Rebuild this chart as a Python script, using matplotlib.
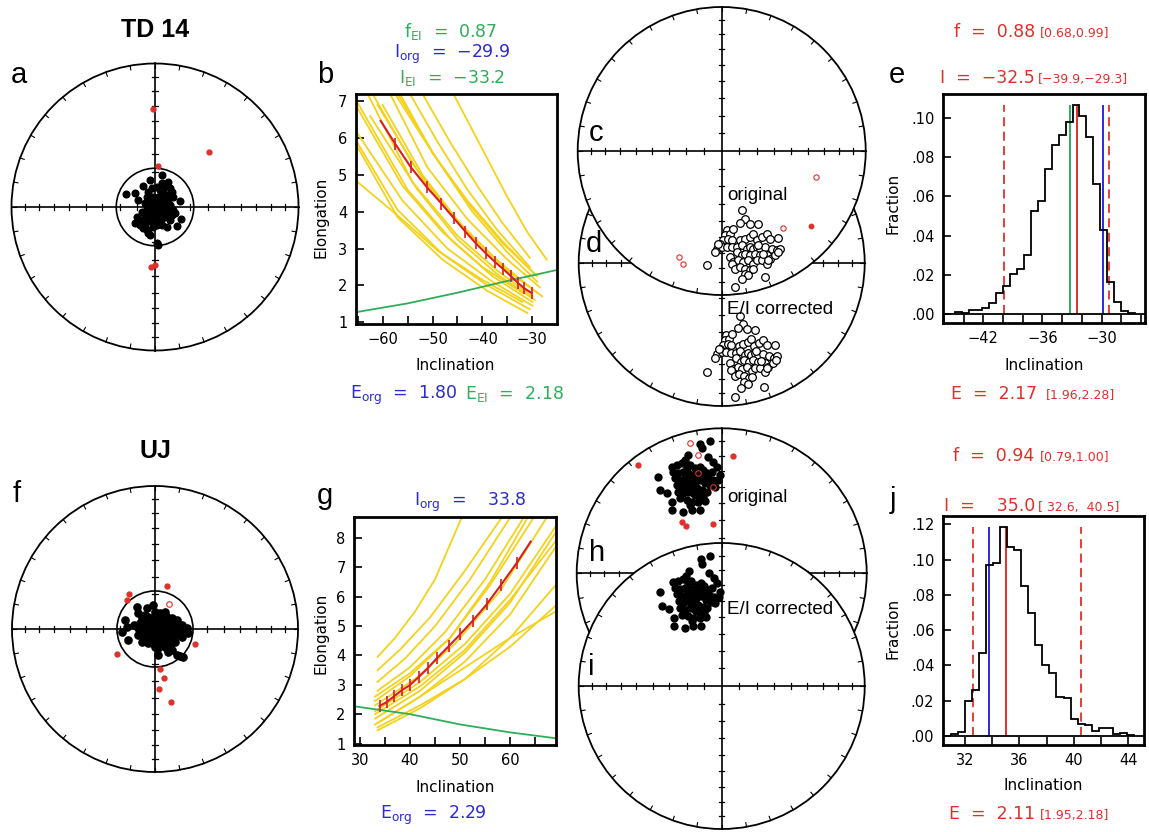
import numpy as np
import matplotlib.pyplot as plt
from matplotlib.patches import Circle
from matplotlib.ticker import FuncFormatter, MultipleLocator, FixedLocator

W, H = 1149, 832

RED = "#e0302a"
BLUE = "#2b2bd2"
GREEN = "#2fae5a"
YELLOW = "#f4d21c"

# ---------------- data ----------------
# equal-area net coordinates, in % of net radius (east, north)
td14_x = [-20.5, -14.0, -11.7, -8.2, -3.5, 4.7, 5.1, 9.3, 10.5, 11.7, 12.8, 17.5, -4.7, -2.3, 1.2, 3.5,
          5.8, 8.2, -5.8, -3.5, -1.2, 2.3, 4.7, 7.0, 9.3, -7.0, -4.7, -2.3, 0.0, 2.3, 4.7, 7.0, 10.5,
          -5.8, -3.5, -1.2, 1.2, 3.5, 5.8, 8.2, 11.7, -9.3, -7.0, -4.7, -2.3, 0.0, 2.3, 4.7, 7.0, 10.5,
          -12.8, -11.7, -9.3, -7.0, -4.7, -2.3, 0.0, 2.3, -14.0, -10.5, -7.0, -5.8, -3.5, -1.2, 1.2,
          4.7, 8.2, 15.2, 18.2, -8.2, -4.7, 1.2, -2.3, 0.0, -3.5, 3.5, 5.8, 10.5, 12.8, 14.0, 2.3]
td14_y = [8.9, 10.0, 4.9, 14.9, 18.9, 22.4, 16.6, 17.7, 13.1, 10.7, 7.2, 4.2, 10.7, 13.1, 14.2, 11.9,
          10.7, 8.4, 7.2, 6.1, 7.2, 7.2, 6.1, 4.9, 3.7, 2.6, 1.4, 2.6, 1.4, 2.6, 1.4, 0.2, -0.9,
          -0.9, -2.1, -0.9, -2.1, -0.9, -3.3, -4.4, -5.6, -3.3, -4.4, -5.6, -4.4, -5.6, -6.8, -7.9, -6.8, -9.1,
          -6.8, -10.3, -9.1, -7.9, -9.1, -10.3, -9.1, -10.3, -11.4, -12.6, -12.6, -16.1, -19.6, -13.8, -12.6,
          -12.6, -13.8, -13.1, -8.4, -14.9, -18.4, -25.4, -0.9, 4.9, 3.7, 3.7, 14.2, 1.4, -2.1, -4.4, -26.8]
td14_rej_x = [-1.2, 37.8, 2.3, -3.0, 0.0]
td14_rej_y = [68.1, 38.5, 28.7, -42.0, -40.3]

uj_x = [-12.9, -5.8, -1.2, 0.0, 3.5, 7.0, -21.0, -19.9, -23.4, -19.2, -11.7, -9.3, -7.0, -4.7, -2.3, 1.2,
        4.7, 8.2, 11.7, 15.2, 18.7, 22.2, 23.4, -10.5, -8.2, -5.8, -3.5, -1.2, 2.3, 5.8, 9.3, 12.9,
        16.4, -11.7, -9.3, -7.0, -4.7, -2.3, 0.0, 2.3, 4.7, 8.2, 11.7, 15.2, 18.7, -8.2, -5.8, -3.5,
        -1.2, 1.2, 3.5, 5.8, 9.3, -7.0, -4.7, -2.3, 0.0, 2.3, 5.8, 0.0, 2.3, 8.2, 10.5, 11.7, 15.2,
        17.5, 19.9, 9.3, 14.0, 16.4, -11.7, -14.5, 2.3, -4.7, -2.3, 4.2, -8.2, 11.7, 19.9, 7.0, -9.3, 12.9]
uj_y = [15.7, 14.5, 16.8, 12.1, 11.4, 12.1, 6.3, 1.6, -1.9, -7.7, 11.0, 7.5, 9.8, 8.6, 7.5, 8.6,
        7.5, 8.6, 7.5, 6.3, 2.8, 0.5, -3.0, 4.0, 5.1, 4.0, 5.1, 4.0, 4.0, 4.0, 4.0, 2.8,
        1.6, 0.5, -0.7, 0.5, -0.7, 0.5, -0.7, -0.2, 0.5, -0.7, -1.9, -4.2, -5.4, -3.0, -4.2, -3.0,
        -4.2, -3.0, -4.2, -3.0, -4.9, -6.5, -7.7, -6.5, -7.7, -6.5, -7.7, -12.4, -13.6, -8.9, -11.2, -14.7, -18.2,
        -18.9, -19.4, -15.9, -8.9, -1.9, -4.2, 2.8, -18.2, -10.0, -10.0, -10.5, 1.6, 1.6, -0.7, -12.4, -8.9, -6.5]
uj_rej_x = [8.2, -18.0, -19.9, 28.0, -26.4, 3.5, 6.3, 2.8, 11.2]
uj_rej_y = [29.9, 24.8, 20.6, -10.5, -17.3, -28.0, -34.3, -42.1, -50.7]
uj_rej_open_x = [9.8]
uj_rej_open_y = [17.8]

# original directions (panel c)
td14_orig_x = [13.9, 16.2, 12.7, 19.7, 25.5, 3.5, 2.3, 5.8, 8.1, 1.2, 4.6, 6.9, -1.2, -3.5, -4.6, 0.0,
               3.5, 6.9, 10.4, 12.7, 16.2, 19.7, 22.0, 24.3, 27.8, 31.2, 33.6, 39.4, 13.9, 17.4, 19.7,
               22.0, 24.3, 26.6, 30.1, 34.7, 38.2, 40.5, 10.4, 13.9, 16.2, 19.7, 23.1, 26.6, 31.2, 33.6,
               37.0, 39.4, 5.8, 8.1, 11.6, 15.0, 18.5, 22.0, 24.3, 27.8, 31.2, 32.4, 6.9, 9.3, 12.7, 16.2,
               19.7, 22.0, 16.2, 18.5, 13.9, 30.1, 9.3, -10.4, -2.3, 25.5, 28.9]
td14_orig_y = [-41.2, -47.0, -50.0, -50.5, -50.9, -55.1, -58.6, -57.4, -53.9, -62.0, -60.9, -62.0, -64.4,
               -67.8, -70.1, -66.7, -66.7, -66.7, -66.7, -62.0, -60.9, -59.7, -57.4, -62.0, -59.7, -57.4,
               -60.9, -60.2, -65.5, -67.8, -66.7, -67.8, -66.7, -69.0, -66.7, -67.8, -69.0, -67.8, -70.1,
               -72.5, -71.3, -72.5, -71.3, -72.5, -72.5, -74.8, -72.5, -70.1, -73.6, -77.1, -75.9, -77.1,
               -75.9, -78.2, -75.9, -75.9, -78.2, -75.9, -78.2, -81.7, -80.6, -81.7, -82.9, -81.7, -85.2,
               -86.3, -88.7, -87.5, -94.4, -79.4, -64.4, -65.5, -71.3]
td14_orig_rej_open_x = [65.3, 42.4, -29.6, -27.1]
td14_orig_rej_open_y = [-18.1, -53.5, -73.6, -78.7]
td14_orig_rej_x = [61.8]
td14_orig_rej_y = [-52.3]

# original directions (panel h)
uj_orig_x = [-14.9, -8.0, -13.8, -23.0, -9.2, -5.7, -25.3, -34.5, -31.0, -27.6, -24.1, -21.8, -18.4, -14.9,
             -12.6, -10.3, -6.9, -3.4, -1.1, -43.7, -33.3, -29.9, -26.4, -23.0, -19.5, -16.1, -12.6, -9.2,
             -5.7, -2.3, -32.2, -28.7, -25.3, -21.8, -18.4, -14.9, -11.5, -8.0, -4.6, -42.5, -37.9, -31.0,
             -27.6, -24.1, -20.7, -17.2, -13.8, -10.3, -29.9, -26.4, -23.0, -19.5, -16.1, -12.6, -34.5,
             -28.7, -24.1, -20.7, -16.1, -11.5, -34.5, -26.4, -20.7, -14.9, -21.8, -18.4, -24.1, -26.4,
             -19.5, -17.2]
uj_orig_y = [89.2, 91.5, 86.2, 81.6, 80.5, 77.0, 78.2, 73.6, 74.7, 75.9, 73.6, 74.7, 72.4, 73.6, 71.3, 69.0,
             70.1, 73.6, 67.8, 66.7, 70.1, 69.0, 70.1, 69.0, 67.8, 69.0, 66.7, 65.5, 64.4, 64.4, 65.5, 64.4,
             65.5, 64.4, 63.2, 64.4, 62.1, 60.9, 59.8, 57.5, 55.2, 60.9, 59.8, 60.9, 59.8, 58.6, 57.5, 56.3,
             56.3, 55.2, 56.3, 55.2, 54.0, 52.9, 49.4, 51.7, 50.6, 49.4, 49.4, 50.1, 43.7, 42.5, 43.7, 43.7,
             47.1, 54.0, 69.0, 63.2, 62.1, 66.7]
uj_orig_rej_open_x = [-21.8, -16.1, -16.1, -6.2]
uj_orig_rej_open_y = [89.7, 81.6, 69.0, 59.3]
uj_orig_rej_x = [-27.6, -24.6, -6.2, -57.9, 7.6]
uj_orig_rej_y = [35.6, 32.6, 33.8, 74.7, 81.1]

# E/I curves, TD 14 (panel b)
b_boot_inc = [[-27.1, -31, -35, -40, -45.8], [-30.5, -36, -41, -46.5, -52], [-30.5, -37, -43, -49, -54.5],
              [-29, -35, -42, -49, -57], [-29.5, -36, -43, -50, -57.5], [-28.5, -35, -43, -51, -58.5],
              [-29, -36, -44, -52, -60], [-30, -37, -45, -54, -63], [-30, -38, -46, -55, -65.4],
              [-30, -38, -47, -56, -65.4], [-30.5, -39, -48, -57, -65.4], [-31, -39, -48, -57, -65.4],
              [-32, -40, -49, -57, -65.4], [-29, -36, -43, -50, -56.5], [-31, -38, -46, -54, -62],
              [-28, -35, -43, -52, -61], [-32, -40, -48, -56, -65.4], [-29.5, -37, -45, -53, -62.5]]
b_boot_elong = [[2.7, 3.45, 4.4, 5.7, 7.2], [2.75, 3.7, 4.7, 5.9, 7.2], [2.5, 3.5, 4.6, 5.9, 7.2],
                [2.1, 2.9, 4.0, 5.4, 7.2], [2.3, 3.2, 4.3, 5.6, 7.2], [1.95, 2.7, 3.8, 5.2, 7.2],
                [1.8, 2.55, 3.6, 5.0, 6.9], [1.7, 2.4, 3.35, 4.8, 7.2], [1.55, 2.25, 3.2, 4.6, 7.05],
                [1.45, 2.1, 3.0, 4.3, 6.2], [1.35, 2.0, 2.85, 4.05, 5.95], [1.25, 1.85, 2.7, 3.85, 5.85],
                [1.55, 2.15, 2.95, 3.9, 4.85], [2.25, 3.15, 4.25, 5.6, 7.2], [2.0, 2.8, 3.9, 5.3, 7.2],
                [1.7, 2.4, 3.45, 4.9, 6.9], [1.8, 2.5, 3.45, 4.7, 6.9], [1.6, 2.3, 3.25, 4.6, 6.6]]
b_data_inc = [-30.1, -31.6, -32.9, -34.35, -35.8, -37.5, -39.3, -41.3, -43.4, -45.7, -48.2, -51.2, -54.4, -57.5]
b_data_elong = [1.79, 1.92, 2.07, 2.26, 2.44, 2.64, 2.87, 3.14, 3.46, 3.82, 4.22, 4.68, 5.22, 5.85]
b_data_end = (-60.4, 6.47)
b_model_inc = [-65.4, -55, -45, -35, -25]
b_model_elong = [1.27, 1.51, 1.80, 2.12, 2.42]

# E/I curves, UJ (panel g)
g_boot_inc = [[33.5, 37, 41, 45, 50.3], [33.5, 38, 44, 51, 58.3], [33.5, 39, 45, 52, 60], [33.5, 40, 47, 55, 62.7],
              [33, 40, 48, 56, 64.7], [33, 41, 49, 58, 67.3], [33, 42, 51, 60, 69.1], [33, 42, 51, 60, 69.1],
              [33, 42, 51, 60, 69.1], [33.5, 42, 51, 60, 69.1], [33.5, 42, 51, 60, 69.1], [34, 42, 51, 60, 69.1],
              [33, 40, 48, 56, 63.5], [33, 42, 51, 60, 69.1]]
g_boot_elong = [[3.95, 4.6, 5.5, 6.6, 8.7], [3.5, 4.2, 5.3, 6.9, 8.7], [3.1, 3.9, 5.0, 6.6, 8.7],
                [2.8, 3.6, 4.8, 6.6, 8.7], [2.6, 3.4, 4.6, 6.4, 8.7], [2.3, 3.2, 4.4, 6.2, 8.7],
                [2.1, 3.1, 4.4, 6.1, 8.4], [1.85, 2.8, 4.1, 5.8, 8.2], [1.65, 2.6, 3.8, 5.4, 7.7],
                [1.45, 2.2, 3.2, 4.6, 6.4], [1.55, 2.3, 3.2, 4.3, 5.7], [1.75, 2.6, 3.6, 4.6, 5.5],
                [2.45, 3.3, 4.6, 6.5, 8.7], [2.0, 2.95, 4.2, 5.9, 7.9]]
g_data_inc = [33.9, 35.3, 36.8, 38.3, 39.9, 41.7, 43.5, 45.3, 47.7, 50.0, 52.5, 55.3, 58.1, 61.3]
g_data_elong = [2.28, 2.41, 2.61, 2.81, 2.98, 3.26, 3.56, 3.90, 4.31, 4.72, 5.18, 5.74, 6.39, 7.15]
g_data_end = (64.1, 7.88)
g_model_inc = [28.8, 40, 50, 60, 69.1]
g_model_elong = [2.27, 2.0, 1.65, 1.38, 1.18]

# bootstrap inclination histograms
e_lo, e_hi = -44.9, -26.63
e_frac = [.001, .0005, .002, .002, .003, .0055, .011, .0145, .0205, .023, .030, .0525, .0575, .074, .086,
          .0915, .098, .1065, .101, .0905, .0665, .043, .0165, .006, .0015, .0005]
j_lo, j_hi = 30.97, 44.41
j_frac = [.001, .0025, .020, .026, .047, .097, .098, .1187, .107, .1055, .085, .0695, .0516, .040, .0355,
          .0223, .0214, .0094, .0066, .0062, .003, .0043, .0043, .0011, .0019, .0006]

f_td14, f_td14_ci = 0.88, (0.68, 0.99)
i_td14, i_td14_ci = -32.5, (-39.9, -29.3)
e_td14, e_td14_ci = 2.17, (1.96, 2.28)
f_ei_td14, i_org_td14, i_ei_td14 = 0.87, -29.9, -33.2
e_org_td14, e_ei_td14 = 1.80, 2.18

f_uj, f_uj_ci = 0.94, (0.79, 1.00)
i_uj, i_uj_ci = 35.0, (32.6, 40.5)
e_uj, e_uj_ci = 2.11, (1.95, 2.18)
i_org_uj, e_org_uj = 33.8, 2.29

# ---------------- helpers ----------------
plt.rcParams["font.family"] = ["DejaVu Sans"]
fig = plt.figure(figsize=(W / 100, H / 100), dpi=100)


def ftext(x, y, s, **kw):
    fig.text(x / W, 1 - y / H, s, **kw)


def px_axes(x0, y0, x1, y1):
    return fig.add_axes([x0 / W, 1 - y1 / H, (x1 - x0) / W, (y1 - y0) / H])


def mstr(v):
    return f"{v:.1f}".replace("-", "\u2212")


def unflatten(x, y, f):
    x = np.asarray(x) / 100
    y = np.asarray(y) / 100
    r = np.hypot(x, y)
    inc = 90 - 2 * np.degrees(np.arcsin(r / np.sqrt(2)))
    inc_c = np.degrees(np.arctan(np.tan(np.radians(inc)) / f))
    rc = np.sqrt(2) * np.sin(np.radians((90 - inc_c) / 2))
    return x * rc / r * 100, y * rc / r * 100


def net(cx, cy, R, z=1, inner=None):
    pad = 1.06
    ax = px_axes(cx - pad * R, cy - pad * R, cx + pad * R, cy + pad * R)
    ax.set_xlim(-pad * 100, pad * 100)
    ax.set_ylim(-pad * 100, pad * 100)
    ax.set_axis_off()
    ax.set_zorder(z)
    ax.add_patch(Circle((0, 0), 100, facecolor="white", edgecolor="black", lw=1.3, zorder=1))
    ax.plot([-100, 100], [0, 0], color="k", lw=1.2, zorder=2)
    ax.plot([0, 0], [-100, 100], color="k", lw=1.2, zorder=2)
    rr = 100 * np.sqrt(2) * np.sin(np.radians((90 - np.arange(10, 90, 10)) / 2))
    for r in rr:
        for s in (-1, 1):
            ax.plot([s * r, s * r], [-1.8, 1.8], color="k", lw=0.9, zorder=2)
            ax.plot([-1.8, 1.8], [s * r, s * r], color="k", lw=0.9, zorder=2)
    for a in np.radians(np.arange(0, 360, 10)):
        ax.plot([97 * np.sin(a), 100 * np.sin(a)], [97 * np.cos(a), 100 * np.cos(a)], color="k", lw=0.8, zorder=2)
    if inner is not None:
        ax.add_patch(Circle((0, 0), inner, facecolor="none", edgecolor="black", lw=1.2, zorder=2))
    return ax


def style_axes(ax):
    for sp in ax.spines.values():
        sp.set_linewidth(2)
    ax.tick_params(which="both", direction="in", length=6, width=1.2, top=False, right=False,
                   labelsize=10.5, pad=6)


# ---------------- panel a / f ----------------
ax = net(155, 207, 143.5, inner=27)
ax.plot(td14_x, td14_y, "o", color="k", ms=4.8, zorder=3)
ax.plot(td14_rej_x, td14_rej_y, "o", color=RED, ms=3.5, zorder=3)

ax = net(155, 629, 143, inner=26.6)
ax.plot(uj_x, uj_y, "o", color="k", ms=5.2, zorder=3)
ax.plot(uj_rej_x, uj_rej_y, "o", color=RED, ms=3.5, zorder=3)
ax.plot(uj_rej_open_x, uj_rej_open_y, "o", mfc="none", mec=RED, ms=4, mew=0.8, zorder=3)

# ---------------- panel c / d ----------------
ax = net(721.7, 263, 143, z=1)
dx, dy = unflatten(td14_orig_x, td14_orig_y, f_ei_td14)
ax.plot(dx, dy, "o", mfc="white", mec="k", ms=5.5, mew=0.9, zorder=3)

ax = net(721.7, 151, 144, z=2)
ax.plot(td14_orig_x, td14_orig_y, "o", mfc="white", mec="k", ms=5.5, mew=0.9, zorder=3)
ax.plot(td14_orig_rej_open_x, td14_orig_rej_open_y, "o", mfc="none", mec=RED, ms=3.8, mew=0.8, zorder=3)
ax.plot(td14_orig_rej_x, td14_orig_rej_y, "o", color=RED, ms=3.2, zorder=3)

# ---------------- panel h / i ----------------
ax = net(721.7, 573.3, 145, z=1)
ax.plot(uj_orig_x, uj_orig_y, "o", color="k", ms=5, zorder=3)
ax.plot(uj_orig_rej_open_x, uj_orig_rej_open_y, "o", mfc="none", mec=RED, ms=4, mew=0.8, zorder=3)
ax.plot(uj_orig_rej_x, uj_orig_rej_y, "o", color=RED, ms=3.5, zorder=3)

ax = net(721.7, 686, 143, z=2)
ix, iy = unflatten(uj_orig_x, uj_orig_y, f_uj)
ax.plot(ix, iy, "o", color="k", ms=5, zorder=3)

# ---------------- panel b ----------------
ax = px_axes(355.7, 94, 556.7, 324)
for xs, ys in zip(b_boot_inc, b_boot_elong):
    ax.plot(xs, ys, color=YELLOW, lw=1.3)
ax.plot(b_model_inc, b_model_elong, color=GREEN, lw=1.3)
ax.plot(b_data_inc + [b_data_end[0]], b_data_elong + [b_data_end[1]], color="#d81e1e", lw=1.5)
ax.plot(b_data_inc, b_data_elong, "|", color="#d81e1e", ms=9, mew=1.2)
ax.set_xlim(-65.4, -25.1)
ax.set_ylim(0.95, 7.2)
ax.xaxis.set_major_locator(FixedLocator([-60, -50, -40, -30]))
ax.xaxis.set_minor_locator(MultipleLocator(5))
ax.yaxis.set_major_locator(MultipleLocator(1))
ax.xaxis.set_major_formatter(FuncFormatter(lambda v, p: f"{v:.0f}".replace("-", "\u2212")))
style_axes(ax)

# ---------------- panel g ----------------
ax = px_axes(354, 516.7, 555.7, 745)
for xs, ys in zip(g_boot_inc, g_boot_elong):
    ax.plot(xs, ys, color=YELLOW, lw=1.3)
ax.plot(g_model_inc, g_model_elong, color=GREEN, lw=1.3)
ax.plot(g_data_inc + [g_data_end[0]], g_data_elong + [g_data_end[1]], color="#d81e1e", lw=1.5)
ax.plot(g_data_inc, g_data_elong, "|", color="#d81e1e", ms=9, mew=1.2)
ax.set_xlim(28.8, 69.1)
ax.set_ylim(0.95, 8.73)
ax.xaxis.set_major_locator(FixedLocator([30, 40, 50, 60]))
ax.xaxis.set_minor_locator(MultipleLocator(5))
ax.yaxis.set_major_locator(MultipleLocator(1))
style_axes(ax)

# ---------------- histograms ----------------
frac_fmt = FuncFormatter(lambda v, p: f"{v:.2f}"[1:] if v >= 0 else "")

ax = px_axes(943.3, 94.3, 1145, 322.7)
ax.vlines([i_ei_td14], 0, 0.1068, color=GREEN, lw=1.4)
ax.vlines([i_org_td14], 0, 0.1068, color=BLUE, lw=1.4)
ax.vlines([i_td14], 0, 0.1068, color=RED, lw=1.4)
ax.vlines(list(i_td14_ci), 0, 0.1068, color=RED, lw=1.3, linestyles=(0, (5, 3)))
ax.axhline(0, color="k", lw=1.3)
ax.stairs(e_frac, np.linspace(e_lo, e_hi, len(e_frac) + 1), color="k", lw=1.3, zorder=3)
ax.set_xlim(-46.06, -25.6)
ax.set_ylim(-0.0043, 0.112)
ax.xaxis.set_major_locator(FixedLocator([-42, -36, -30]))
ax.xaxis.set_minor_locator(MultipleLocator(2))
ax.yaxis.set_major_locator(MultipleLocator(0.02))
ax.yaxis.set_major_formatter(frac_fmt)
ax.xaxis.set_major_formatter(FuncFormatter(lambda v, p: f"{v:.0f}".replace("-", "\u2212")))
style_axes(ax)

ax = px_axes(942.7, 516, 1144.3, 745)
ax.vlines([i_org_uj], 0, 0.1187, color=BLUE, lw=1.4)
ax.vlines([i_uj], 0, 0.1187, color=RED, lw=1.4)
ax.vlines(list(i_uj_ci), 0, 0.1187, color=RED, lw=1.3, linestyles=(0, (5, 3)))
ax.axhline(0, color="k", lw=1.3)
ax.stairs(j_frac, np.linspace(j_lo, j_hi, len(j_frac) + 1), color="k", lw=1.3, zorder=3)
ax.set_xlim(30.36, 45.18)
ax.set_ylim(-0.0051, 0.1247)
ax.xaxis.set_major_locator(FixedLocator([32, 36, 40, 44]))
ax.xaxis.set_minor_locator(MultipleLocator(2))
ax.yaxis.set_major_locator(MultipleLocator(0.02))
ax.yaxis.set_major_formatter(frac_fmt)
style_axes(ax)

# ---------------- text ----------------
LET = dict(family="Liberation Sans", fontsize=21, ha="center", va="center")
ftext(155, 30, "TD 14", family="Liberation Sans", fontsize=18, weight="bold", ha="center", va="center")
ftext(155, 451, "UJ", family="Liberation Sans", fontsize=18, weight="bold", ha="center", va="center")
for x, y, s in [(19, 75, "a"), (325, 75, "b"), (596, 133, "c"), (594, 244, "d"), (897, 75, "e"),
                (17, 494, "f"), (325, 496, "g"), (597, 553, "h"), (591, 667, "i"), (893, 500, "j")]:
    ftext(x, y, s, **LET)

TXT = dict(family="Liberation Sans", fontsize=13.5, ha="left", va="center")
ftext(727, 195, "original", **TXT)
ftext(727, 309, "E/I corrected", **TXT)
ftext(727, 498, "original", **TXT)
ftext(727, 609, "E/I corrected", **TXT)

R = "\\mathregular"
A = dict(fontsize=12.5, ha="center", va="baseline")
ftext(451, 37, f"f$_{R}{{EI}}$  =  {f_ei_td14:.2f}", color=GREEN, **A)
ftext(452, 58, f"I$_{R}{{org}}$  =  {mstr(i_org_td14)}", color=BLUE, **A)
ftext(452, 83, f"I$_{R}{{EI}}$  =  {mstr(i_ei_td14)}", color=GREEN, **A)
ftext(404, 399, f"E$_{R}{{org}}$  =  {e_org_td14:.2f}", color=BLUE, **A)
ftext(514, 399, f"E$_{R}{{EI}}$  =  {e_ei_td14:.2f}", color=GREEN, **A)
ftext(470, 506, f"I$_{R}{{org}}$  =    {i_org_uj:.1f}", color=BLUE, **A)
ftext(433, 819, f"E$_{R}{{org}}$  =  {e_org_uj:.2f}", color=BLUE, **A)

M = dict(fontsize=12.5, ha="right", va="baseline", color=RED)
S = dict(fontsize=9, ha="left", va="baseline", color=RED)
ftext(1035, 37, f"f  =  {f_td14:.2f}", **M)
ftext(1040, 37, f"[{f_td14_ci[0]:.2f},{f_td14_ci[1]:.2f}]", **S)
ftext(1035, 83, f"I  =  {mstr(i_td14)}", **M)
ftext(1038, 83, f"[{mstr(i_td14_ci[0])},{mstr(i_td14_ci[1])}]", **S)
ftext(1037, 399, f"E  =  {e_td14:.2f}", **M)
ftext(1046, 399, f"[{e_td14_ci[0]:.2f},{e_td14_ci[1]:.2f}]", **S)
ftext(1034, 461, f"f  =  {f_uj:.2f}", **M)
ftext(1040, 461, f"[{f_uj_ci[0]:.2f},{f_uj_ci[1]:.2f}]", **S)
ftext(1035, 511, f"I  =    {i_uj:.1f}", **M)
ftext(1038, 511, f"[ {i_uj_ci[0]:.1f},  {i_uj_ci[1]:.1f}]", **S)
ftext(1035, 819, f"E  =  {e_uj:.2f}", **M)
ftext(1040, 819, f"[{e_uj_ci[0]:.2f},{e_uj_ci[1]:.2f}]", **S)

L = dict(fontsize=11, ha="center", va="center")
ftext(455, 365, "Inclination", **L)
ftext(455, 787, "Inclination", **L)
ftext(1044, 365, "Inclination", **L)
ftext(1043, 786, "Inclination", **L)
ftext(321, 217, "Elongation", rotation=90, **L)
ftext(321, 633, "Elongation", rotation=90, **L)
ftext(893, 203, "Fraction", rotation=90, **L)
ftext(893, 628, "Fraction", rotation=90, **L)

fig.savefig("out.png", dpi=100)
